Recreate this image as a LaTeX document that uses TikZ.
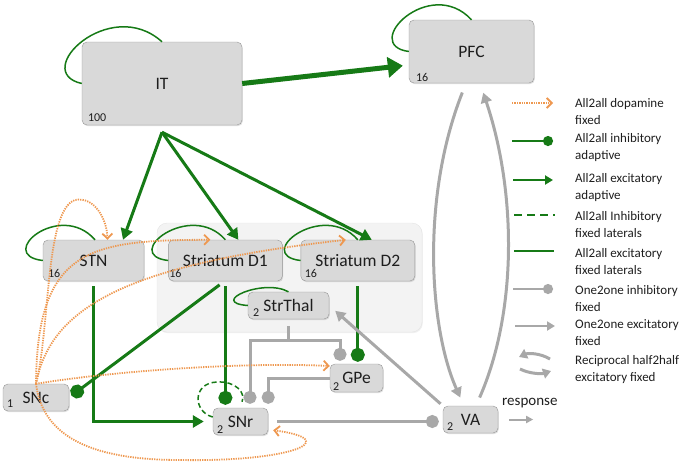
\documentclass[tikz,border=0pt]{standalone}
\usepackage{fontspec}
\setmainfont{Carlito}
\usetikzlibrary{positioning,arrows.meta,shadows}

\definecolor{syngreen}{RGB}{22,122,22}
\definecolor{dopaorange}{RGB}{238,152,80}
\definecolor{fixgrey}{RGB}{168,168,168}
\definecolor{popfill}{RGB}{217,217,217}
\definecolor{popline}{RGB}{150,150,150}
\definecolor{stratfill}{RGB}{243,243,243}
\definecolor{stratline}{RGB}{228,228,228}
\definecolor{labeltext}{RGB}{30,30,30}

\tikzset{
  pop/.style={draw=popline, fill=popfill, rounded corners=5pt, text=labeltext,
    font=\fontsize{17.5}{20}\selectfont, inner sep=1pt,
    drop shadow={shadow xshift=0.8pt, shadow yshift=-1.2pt, opacity=0.25}},
  count/.style={anchor=south west, inner sep=0pt, xshift=4pt, yshift=3pt,
    text=labeltext, font=\fontsize{12}{12}\selectfont},
  exc/.style={draw=syngreen, line width=3pt, -{Triangle[length=11pt,width=12pt]}},
  inh/.style={draw=syngreen, line width=3pt, -{Circle[length=14pt]}},
  selfloop/.style={draw=syngreen, line width=1.5pt},
  lateral/.style={draw=syngreen, line width=1.5pt, dash pattern=on 5pt off 3pt},
  dopa/.style={draw=dopaorange, line width=1.8pt, dash pattern=on 1.3pt off 1.1pt,
    -{Straight Barb[length=5pt,width=10pt]}},
  fixinh/.style={draw=fixgrey, line width=3pt, -{Circle[length=13pt]}},
  fixexc/.style={draw=fixgrey, line width=3pt, -{Triangle[length=10pt,width=11pt]}},
  legtext/.style={anchor=north west, align=left, inner sep=0pt, text=labeltext,
    font=\fontsize{13}{17}\selectfont},
}

\begin{document}
\begin{tikzpicture}[x=1pt, y=-1pt]
    \useasboundingbox (0,0) rectangle (682,469);

    % striatum area
    \draw[draw=stratline, fill=stratfill, rounded corners=10pt,
      drop shadow={shadow xshift=0.8pt, shadow yshift=-1.2pt, opacity=0.12}] (157,223) rectangle (422,332);

    % populations
    \node[pop, minimum width=160pt, minimum height=83pt, label={[count, xshift=2pt, yshift=0.5pt]south west:100}] (IT) at (162,83.5) {IT};
    \node[pop, minimum width=125pt, minimum height=63pt, label={[count, xshift=3pt, yshift=-2pt]south west:16}] (PFC) at (471.5,51.5) {PFC};
    \node[pop, minimum width=101pt, minimum height=41pt, label={[count, xshift=1pt]south west:16}] (STN) at (93.5,260.5) {STN};
    \node[pop, minimum width=114pt, minimum height=41pt, right=24pt of STN, label={[count, xshift=-3pt]south west:16}] (D1) {Striatum D1};
    \node[pop, minimum width=114pt, minimum height=41pt, right=18pt of D1, label={[count]south west:16}] (D2) {Striatum D2};
    \node[pop, minimum width=81pt, minimum height=27pt, label={[count, xshift=1pt]south west:2}] (StrThal) at (288.5,305.5) {StrThal};
    \node[pop, minimum width=53pt, minimum height=28pt, label={[count, xshift=-1pt, yshift=-1pt]south west:2}] (GPe) at (356.5,378) {GPe};
    \node[pop, minimum width=66pt, minimum height=27pt, label={[count, yshift=1pt]south west:1}] (SNc) at (36,397.5) {SNc};
    \node[pop, minimum width=55pt, minimum height=27pt, label={[count, yshift=-1pt]south west:2}] (SNr) at (240.5,421.5) {SNr};
    \node[pop, minimum width=55pt, minimum height=27pt, label={[count]south west:2}] (VA) at (470.5,419.5) {VA};

    % self loops
    \draw[selfloop] (IT.west) .. controls +(-52,-11.5) and +(-52,-47) .. (IT.north);
    \draw[selfloop] (PFC.west) .. controls +(-49,-6.5) and +(-41.5,-45) .. (PFC.north);
    \draw[selfloop] (STN.west) .. controls +(-48,-5.5) and +(-35,-40) .. ([xshift=1.5pt]STN.north);
    \draw[selfloop] (D1.west) .. controls +(-48,-5.5) and +(-35,-40) .. (D1.north);
    \draw[selfloop] (D2.west) .. controls +(-48,-5.5) and +(-35,-40) .. (D2.north);
    \draw[selfloop] (StrThal.west) .. controls +(-40,-3) and +(-25,-14) .. (StrThal.north);
    \draw[lateral] ([yshift=4.5pt]SNr.west) .. controls (193,412) and (192,383) .. (217,382)
      .. controls (236,381) and (246,393) .. ([xshift=1.5pt,yshift=6pt]SNr.north);

    % adaptive excitatory
    \draw[exc, line width=5pt, -{Triangle[length=15pt,width=20pt]}, shorten >=6pt] (IT.east) -- ([yshift=-13.5pt]PFC.west);
    \coordinate (fan) at ([yshift=-7pt]IT.south);
    \draw[exc] (fan) -- ([xshift=29.5pt]STN.north);
    \draw[exc] (fan) -- ([xshift=13pt]D1.north);
    \draw[exc] (fan) -- ([xshift=14pt]D2.north);
    \draw[exc, shorten <=5pt, shorten >=9pt] (STN.south) |- (SNr.west);

    % adaptive inhibitory
    \draw[inh, shorten <=5pt, shorten >=3pt] (D1.south) -- (D1.south |- SNr.north);
    \draw[inh, shorten <=6pt, shorten >=3pt] ([xshift=-1pt]D1.south) -- (SNc.east);
    \draw[inh, shorten <=5pt, shorten >=2pt] (D2.south) -- (D2.south |- GPe.north);

    % one2one fixed
    \coordinate (thal) at ([yshift=-21pt]StrThal.south);
    \draw[draw=fixgrey, line width=3pt, shorten <=7pt] (StrThal.south) -- (thal);
    \draw[fixinh, shorten >=3pt] (thal) -| ([xshift=-16.5pt]GPe.north);
    \draw[fixinh, shorten >=4pt] (thal) -| ([xshift=9.5pt]SNr.north);
    \draw[fixinh, shorten >=4pt] (GPe.west) -| (SNr.north east);
    \draw[fixinh, shorten <=9pt, shorten >=4pt] (SNr.east) -- (SNr.east -| VA.west);
    \draw[fixexc, shorten <=3pt, shorten >=8pt] (VA.north west) -- (StrThal.east);
    \draw[fixexc, shorten <=10pt, shorten >=9pt] ([xshift=-5.5pt]PFC.south) .. controls (420,200) and (430,330) .. ([xshift=-6.5pt]VA.north);
    \draw[fixexc, shorten <=9pt, shorten >=10pt] ([xshift=5.5pt]VA.north) .. controls (518,310) and (516,190) .. ([xshift=8.5pt]PFC.south);

    % dopamine
    \draw[dopa] (SNc.north) .. controls (50,330) and (45,210) .. (75,200)
      .. controls (95,196) and (107,220) .. ([xshift=14pt]STN.north);
    \draw[dopa] (SNc.north) .. controls (37,248) and (90,240) .. ([xshift=-15pt]D1.north);
    \draw[dopa] (SNc.north) .. controls (50,310) and (120,265) .. ([xshift=-12pt]D2.north);
    \draw[dopa] (SNc.north) .. controls (120,370) and (250,362) .. ([yshift=12pt]GPe.west);
    \draw[dopa] (SNc.north) .. controls (42,430) and (80,460) .. (180,460)
      .. controls (290,462) and (345,440) .. ([xshift=5pt,yshift=5pt]SNr.south east);

    % response
    \coordinate (respout) at ([xshift=35pt]VA.east);
    \draw[fixexc, line width=2pt, -{Triangle[length=7pt,width=7pt]}, shorten <=11pt] (VA.east) -- (respout);
    \node[anchor=base west, inner sep=0pt, text=labeltext, font=\fontsize{15}{18}\selectfont] (resp) at (502,405) {response};

    % legend
    \draw[dopa] (512,103) -- (553,103);
    \draw[inh, line width=2.5pt, -{Circle[length=10pt]}] (512,141) -- (553,141);
    \draw[exc, line width=2.5pt, -{Triangle[length=8pt,width=9pt]}] (513,180) -- (553,180);
    \draw[draw=syngreen, line width=2.5pt, dash pattern=on 8pt off 5pt] (514,215) -- (555,215);
    \draw[draw=syngreen, line width=2.5pt] (514,251) -- (554,251);
    \draw[fixinh, line width=2.5pt, -{Circle[length=10pt]}] (513,289) -- (553,289);
    \draw[fixexc, line width=2.5pt, -{Triangle[length=8pt,width=9pt]}] (515,326) -- (555,326);
    \draw[fixexc, -{Triangle[length=8pt,width=10pt]}] (550,359) .. controls (540,353) and (528,353) .. (519,357);
    \draw[fixexc, -{Triangle[length=8pt,width=10pt]}] (520,369) .. controls (530,374) and (542,374) .. (551,371);

    \node[legtext] (legdopa) at (575,98) {All2all dopamine\\fixed};
    \node[legtext] (leginh) at (575,133) {All2all inhibitory\\adaptive};
    \node[legtext] (legexc) at (575,173) {All2all excitatory\\adaptive};
    \node[legtext] (leglatinh) at (575,211) {All2all Inhibitory\\fixed laterals};
    \node[legtext] (leglatexc) at (575,248) {All2all excitatory\\fixed laterals};
    \node[legtext] (legoinh) at (575,285) {One2one inhibitory\\fixed};
    \node[legtext] (legoexc) at (575,319) {One2one excitatory\\fixed};
    \node[legtext] (legrecip) at (575,355) {Reciprocal half2half\\excitatory fixed};
\end{tikzpicture}
\end{document}
